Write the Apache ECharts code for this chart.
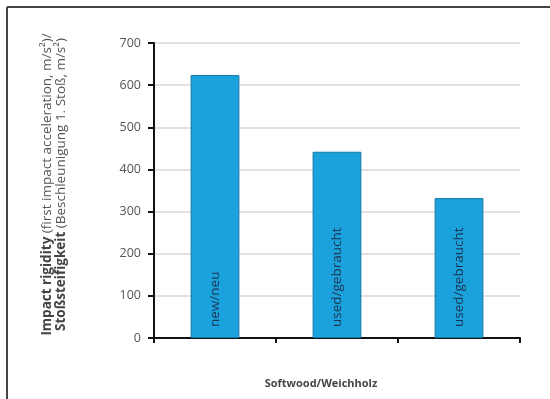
<!DOCTYPE html>
<html>
<head>
<meta charset="utf-8">
<script src="https://cdn.jsdelivr.net/npm/echarts@6/dist/echarts.min.js"></script>
<style>
  html, body { margin: 0; padding: 0; background: #fff; }
  #chart { width: 550px; height: 399px; }
</style>
</head>
<body>
<div id="chart"></div>
<script>
// Bar categories (printed inside each bar) and measured values
const categories = ['new/neu', 'used/gebraucht', 'used/gebraucht'];
const values = [624, 442, 332];
const yTicks = [0, 100, 200, 300, 400, 500, 600, 700];
const xTitle = 'Softwood/Weichholz';
const yTitleLine1 = ['Impact rigidity', ' (first impact acceleration, m/s²)/'];
const yTitleLine2 = ['Stoßsteifigkeit', ' (Beschleunigung 1. Stoß, m/s²)'];

const chart = echarts.init(document.getElementById('chart'));
const font = 'Open Sans';

chart.setOption({
  animation: false,
  textStyle: { fontFamily: font },
  grid: { left: 154, right: 30, top: 43, bottom: 61 },
  graphic: [
    { type: 'line', shape: { x1: 7, y1: 7, x2: 550, y2: 7 }, style: { stroke: '#444', lineWidth: 2 } },
    { type: 'line', shape: { x1: 7, y1: 7, x2: 7, y2: 399 }, style: { stroke: '#444', lineWidth: 2 } }
  ],
  xAxis: {
    type: 'category',
    data: categories,
    axisLine: { lineStyle: { color: '#111', width: 2 } },
    axisTick: { show: true, length: 5, lineStyle: { color: '#111', width: 2 } },
    axisLabel: { show: false },
    name: xTitle,
    nameLocation: 'middle',
    nameGap: 40,
    nameTextStyle: { fontFamily: font, fontSize: 11, fontWeight: 'bold', color: '#444', padding: [0, 32, 0, 0] }
  },
  yAxis: {
    type: 'value',
    min: yTicks[0],
    max: yTicks[yTicks.length - 1],
    interval: 100,
    axisLine: { show: true, lineStyle: { color: '#111', width: 2 } },
    axisTick: { show: true, length: 6, lineStyle: { color: '#111', width: 2 } },
    axisLabel: { color: '#555', fontSize: 12.5, margin: 13, fontFamily: font },
    splitLine: { lineStyle: { color: '#d8d8d8', width: 1.5 } },
    name: '{b|' + yTitleLine1[0] + '}{n|' + yTitleLine1[1] + '}\n{b|' + yTitleLine2[0] + '}{n|' + yTitleLine2[1] + '}',
    nameLocation: 'middle',
    nameRotate: 90,
    nameGap: 86,
    nameTextStyle: {
      padding: [0, 0, 0, 12],
      rich: {
        b: { fontFamily: font, fontSize: 13.5, fontWeight: 'bold', color: '#444', lineHeight: 14 },
        n: { fontFamily: font, fontSize: 13.5, color: '#555', lineHeight: 14 }
      }
    }
  },
  series: [{
    type: 'bar',
    data: values,
    barWidth: '40%',
    itemStyle: { color: '#1ba1dc', borderColor: '#1679a8', borderWidth: 1 },
    label: {
      show: true,
      formatter: p => p.name,
      position: 'insideBottom',
      rotate: 90,
      align: 'left',
      verticalAlign: 'middle',
      distance: 11,
      color: '#1c3550',
      fontSize: 13.5,
      fontFamily: font
    }
  }]
});
</script>
</body>
</html>
